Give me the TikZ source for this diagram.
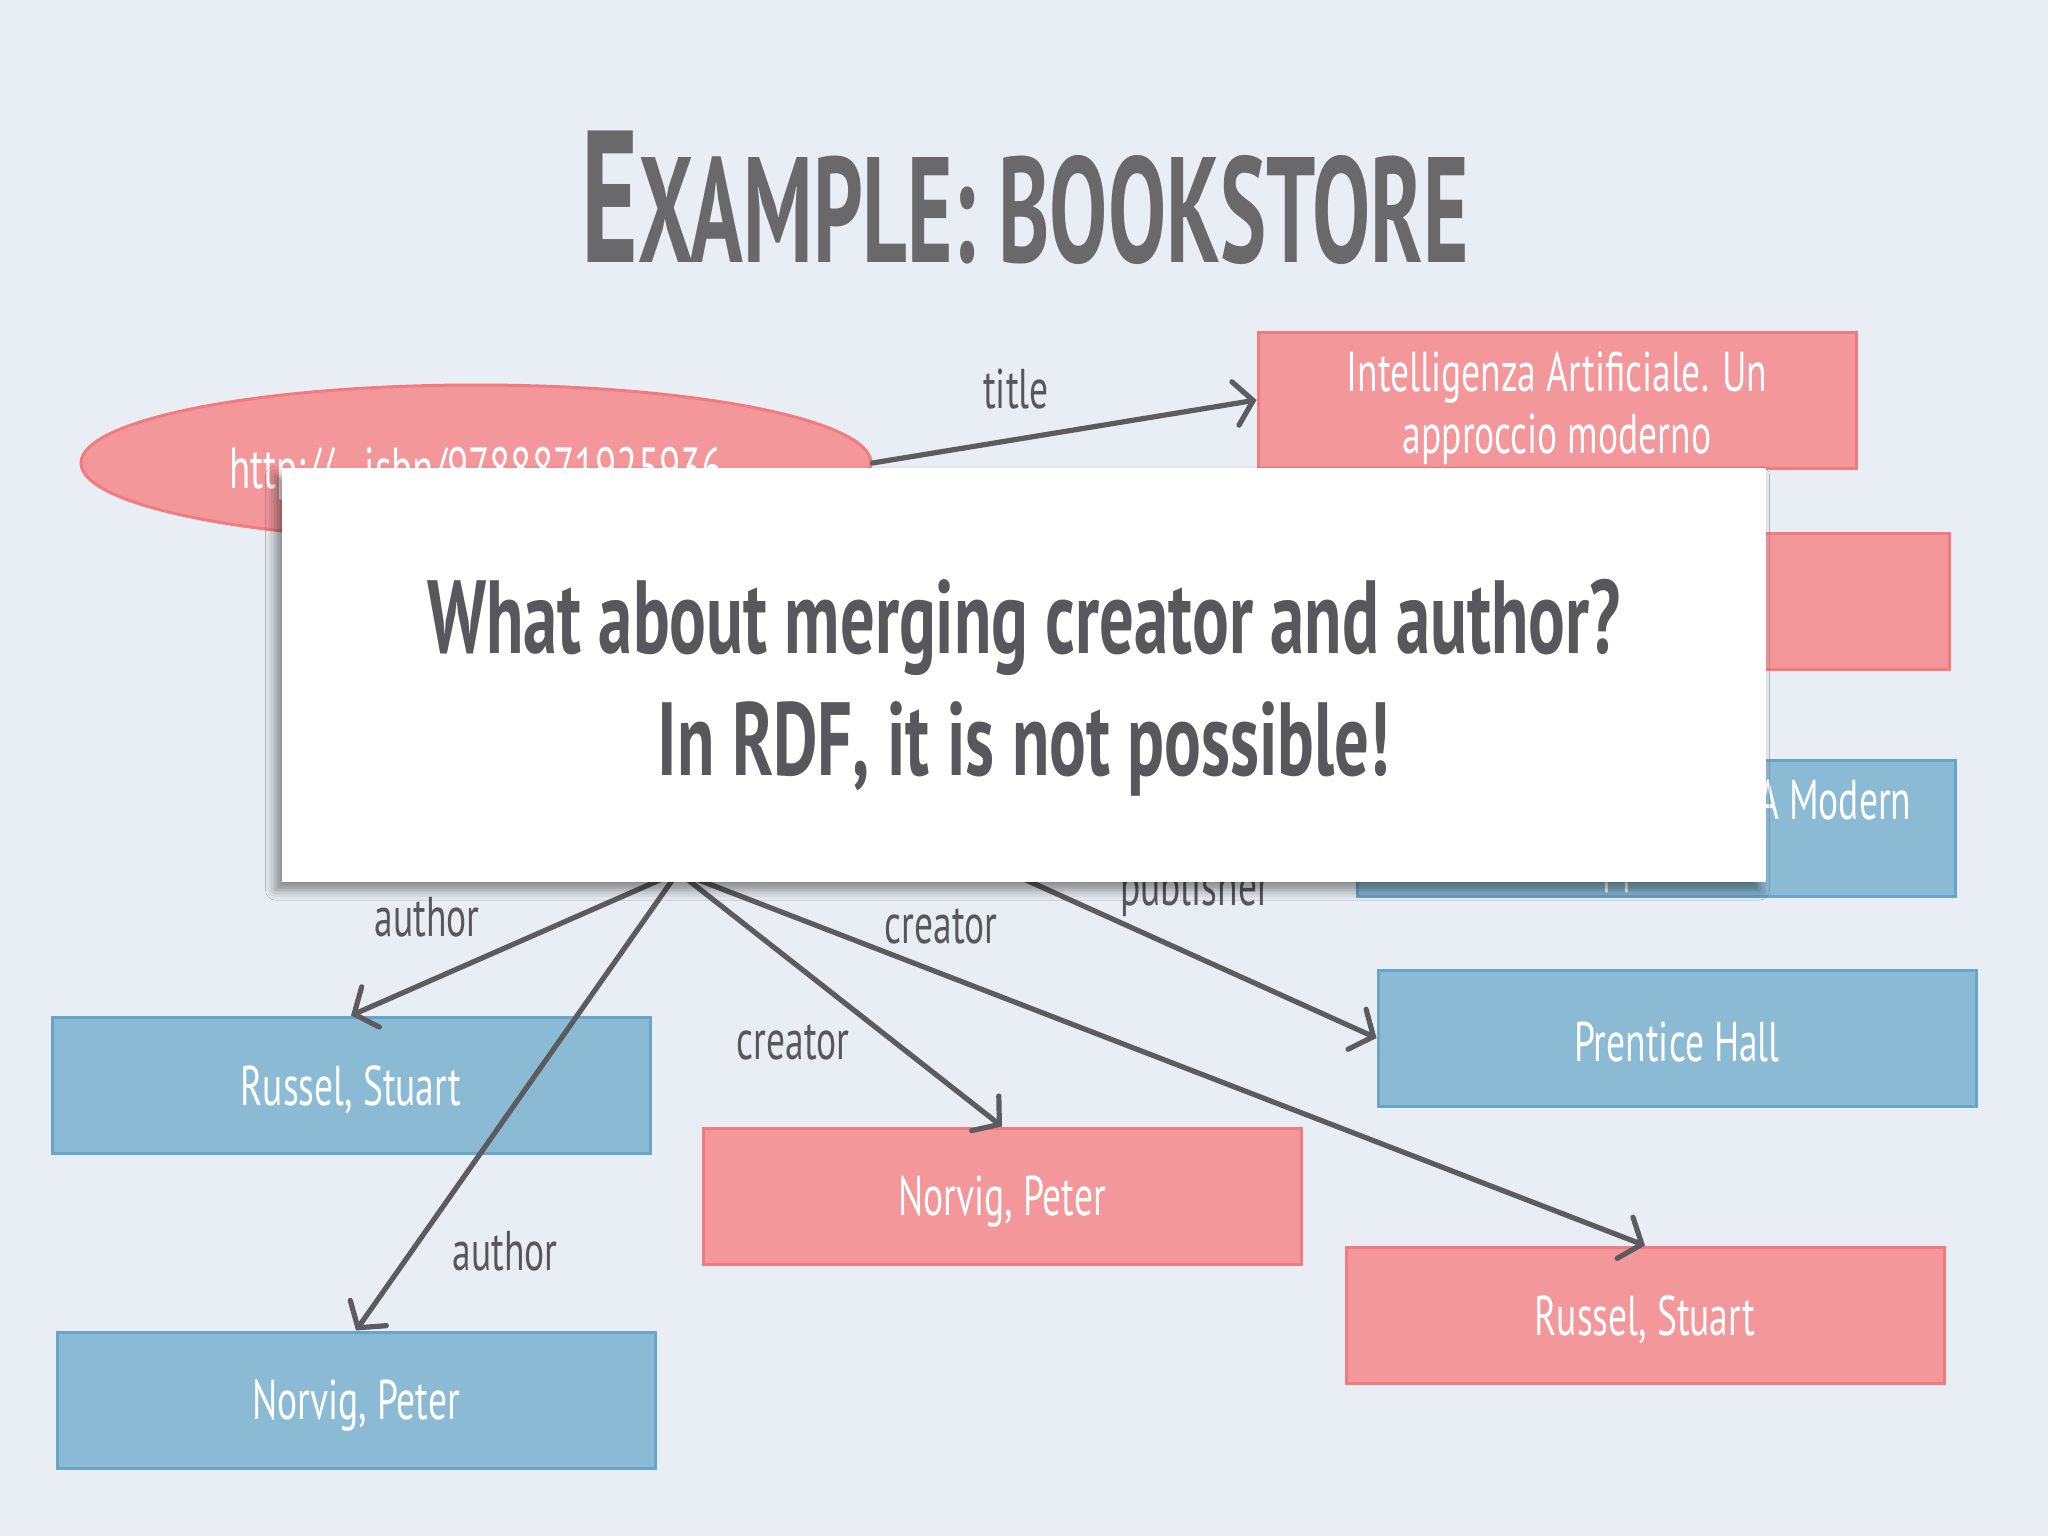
\documentclass[tikz,border=0pt]{standalone}
\usepackage{fontspec}
\setmainfont{PT Sans}
\newfontfamily\slimfont[FakeStretch=0.67]{PT Sans}
\newfontfamily\notefont[FakeStretch=0.66]{PT Sans}
\newfontfamily\headfont[FakeStretch=0.58]{PT Sans}
\newcommand{\boxstrut}{\rule[-2pt]{0pt}{27pt}}
\newcommand{\tallstrut}{\rule{0pt}{28pt}}
\usepackage{tikz}
\usetikzlibrary{shapes.geometric, arrows.meta, positioning, shadows.blur}
\definecolor{slidebg}{HTML}{E9EEF4}
\definecolor{pinkfill}{HTML}{F3979B}
\definecolor{pinkline}{HTML}{F07C80}
\definecolor{bluefill}{HTML}{8BBAD5}
\definecolor{blueline}{HTML}{66A6CC}
\definecolor{edgegray}{HTML}{5C5C60}
\definecolor{labelgray}{HTML}{58585C}
\definecolor{headgray}{HTML}{69696B}
\tikzset{
    pinkbox/.style={rectangle, minimum width=299pt, minimum height=68pt, align=center, draw=pinkline, line width=1.5pt, fill=pinkfill, text=white, font=\slimfont\fontsize{28}{31}\selectfont, execute at begin node=\boxstrut},
    bluebox/.style={pinkbox, draw=blueline, fill=bluefill},
    twolines/.style={inner ysep=0pt},
    urinode/.style={ellipse, minimum width=395pt, minimum height=78pt, draw=pinkline, line width=1.5pt, fill=pinkfill},
    uritext/.style={text=white, font=\slimfont\fontsize{29}{31}\selectfont},
    edgelabel/.style={text=labelgray, font=\slimfont\fontsize{28}{31}\selectfont},
    notebox/.style={rectangle, fill=white, minimum width=742pt, minimum height=207pt, blur shadow={shadow xshift=-3pt, shadow yshift=-4pt, shadow blur radius=5pt, shadow opacity=45}},
    notetext/.style={align=center, text=labelgray, font=\notefont\bfseries\fontsize{52}{61}\selectfont},
    arrow/.style={line width=2.6pt, draw=edgegray, line cap=round, -{Straight Barb[length=9pt, width=22pt, line cap=round]}}
}

\begin{document}
\begin{tikzpicture}[x=0.5pt, y=-0.5pt]
    \fill[slidebg] (0,0) rectangle (2048,1536);
    \useasboundingbox (0,0) rectangle (2048,1536);

    % heading
    \node (heading) [anchor=base, text=headgray] at (1025,262) {\headfont\bfseries\fontsize{94}{94}\selectfont E\fontsize{75}{75}\selectfont XAMPLE: BOOKSTORE};

    % the book and its literals
    \node (uri) [urinode] at (476,463) {};
    \node (uritext) [uritext, anchor=base] at (476,488) {http://...isbn/9788871925936};
    \node (titlebox) [pinkbox, twolines] at (1557,400) {\tallstrut Intelligenza Artificiale. Un\\approccio moderno};
    \node (otherpink) [pinkbox] at (1650,601) {};
    \node (engtitle) [bluebox, twolines] at (1656,828) {\tallstrut Artificial Intelligence: A Modern\\Approach};
    \node (prentice) [bluebox] at (1677,1038) {Prentice Hall};
    \node (russelblue) [bluebox] at (351,1085) {Russel, Stuart};
    \node (norvigblue) [bluebox] at (356,1400) {Norvig, Peter};
    \node (norvigpink) [pinkbox] at (1002,1196) {Norvig, Peter};
    \node (russelpink) [pinkbox] at (1645,1315) {Russel, Stuart};

    % hidden sources under the note
    \coordinate (hub) at (678,872);
    \coordinate (pubsrc) at (975,857);

    \draw [arrow] (uri.east) -- (titlebox.west);
    \draw [arrow] (hub) -- (russelblue.north);
    \draw [arrow] (hub) -- (norvigblue.north);
    \draw [arrow] (hub) -- (norvigpink.north);
    \draw [arrow] (hub) -- (russelpink.north);
    \draw [arrow] (pubsrc) -- (prentice.west);

    \node (lbltitle) [edgelabel] at (1016,389) {title};
    \node (lblauthor) [edgelabel] at (427,917) {author};
    \node (lblcreator) [edgelabel] at (941,926) {creator};
    \node (lblpub) [edgelabel, anchor=base] at (1195,905) {publisher};
    \node (lblcreator2) [edgelabel] at (793,1042) {creator};
    \node (lblauthor2) [edgelabel] at (505,1251) {author};

    % the question on top
    \node (note) [notebox] at (1023.5,675) {};
    \node (question) [notetext] at (1024,688) {What about merging creator and author?\\In RDF, it is not possible!};
\end{tikzpicture}
\end{document}
